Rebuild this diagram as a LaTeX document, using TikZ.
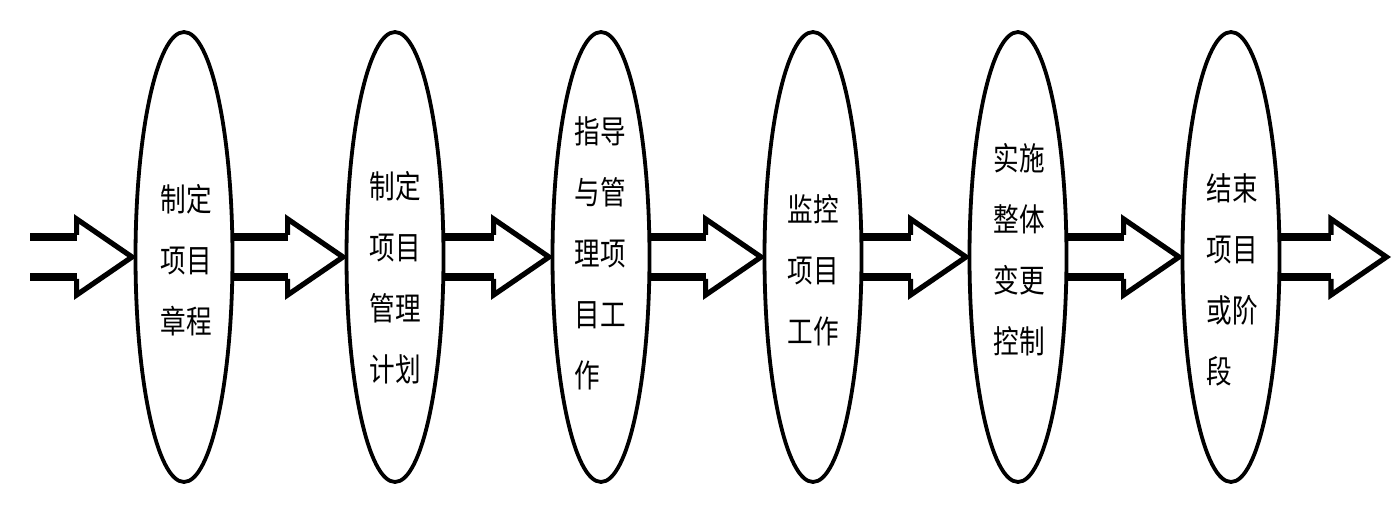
\documentclass[tikz,border=0pt]{standalone}
\usepackage{fontspec}
\newfontfamily\cjk[FakeStretch=0.8]{Noto Sans CJK SC}
\usetikzlibrary{shapes.geometric,calc}
\tikzset{
  oval/.style={ellipse,draw=black,line width=1.9pt,minimum width=48.5pt,minimum height=225pt,inner sep=0pt},
  lbl/.style={align=left,inner sep=0pt,font=\cjk\fontsize{16pt}{30.5pt}\selectfont},
  shaft/.style={line width=4pt,line cap=butt},
  head/.style={line width=2.6pt,line join=miter,miter limit=10}
}
\newcommand\hollowarrow[2]{%
  \draw[shaft] let \p1=(#1),\p2=(#2) in
    (\x1,\y2+10pt) -- (\x2-28.5pt,\y2+10pt)
    (\x1,\y2-10pt) -- (\x2-28.5pt,\y2-10pt);
  \draw[head] let \p2=(#2) in
    (\x2-28.5pt,\y2+11pt) -- (\x2-28.5pt,\y2+19pt) -- (\x2-0.8pt,\y2) --
    (\x2-28.5pt,\y2-19pt) -- (\x2-28.5pt,\y2-11pt);
}
\begin{document}
\begin{tikzpicture}[x=0.5pt,y=-0.5pt]
\useasboundingbox[fill=white] (0,0) rectangle (1394,528);
\node[oval] (e1) at (184,257) {};
\node[oval] (e2) at (395,257) {};
\node[oval] (e3) at (601,257) {};
\node[oval] (e4) at (813,257) {};
\node[oval] (e5) at (1018,257) {};
\node[oval] (e6) at (1231,257) {};
\node[lbl] (t1) at (186,260) {制定\\项目\\章程};
\node[lbl] (t2) at (395,278) {制定\\项目\\管理\\计划};
\node[lbl] (t3) at (600,253) {指导\\与管\\理项\\目工\\作};
\node[lbl] (t4) at (813,270) {监控\\项目\\工作};
\node[lbl] (t5) at (1019,250) {实施\\整体\\变更\\控制};
\node[lbl] (t6) at (1232,280) {结束\\项目\\或阶\\段};
\coordinate (start) at (30,257);
\coordinate (finish) at (1388,257);
\hollowarrow{start}{e1.west}
\hollowarrow{e1.east}{e2.west}
\hollowarrow{e2.east}{e3.west}
\hollowarrow{e3.east}{e4.west}
\hollowarrow{e4.east}{e5.west}
\hollowarrow{e5.east}{e6.west}
\hollowarrow{e6.east}{finish}
\end{tikzpicture}
\end{document}
